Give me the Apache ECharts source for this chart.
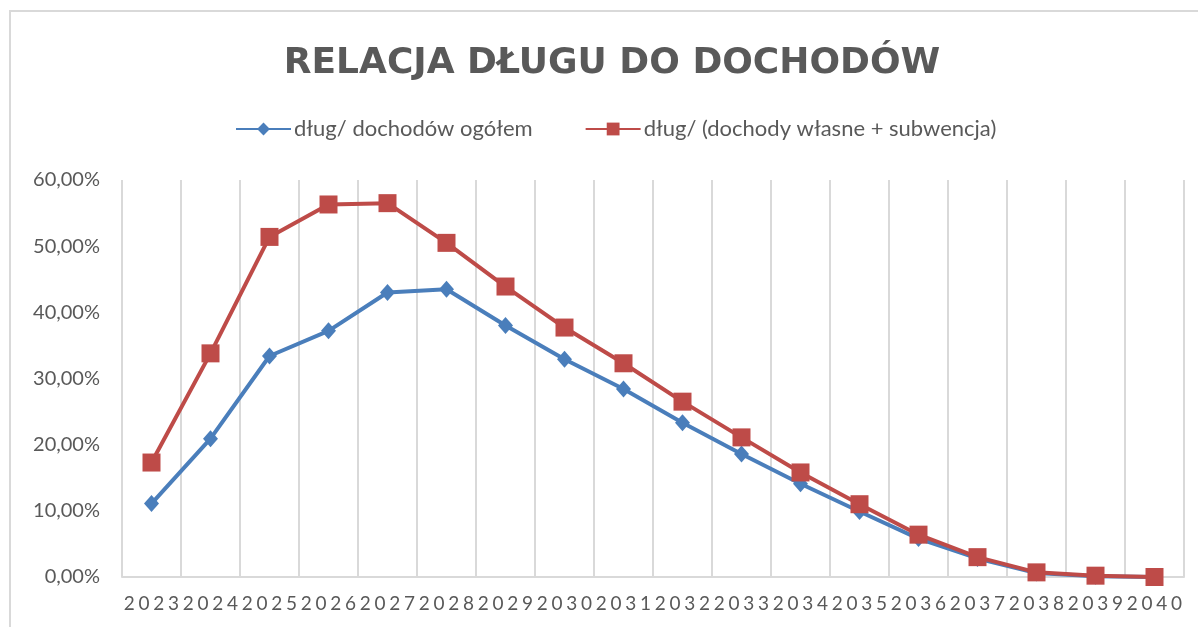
<!DOCTYPE html>
<html>
<head>
<meta charset="utf-8">
<script src="https://cdn.jsdelivr.net/npm/echarts@6/dist/echarts.min.js"></script>
<style>
  html, body { margin: 0; padding: 0; background: #fff; }
  #wykres { width: 1198px; height: 627px; }
</style>
</head>
<body>
<div id="wykres"></div>
<script>
var lata = ['2023', '2024', '2025', '2026', '2027', '2028', '2029', '2030', '2031',
            '2032', '2033', '2034', '2035', '2036', '2037', '2038', '2039', '2040'];
// wartosci w procentach
var dlugOgolem = [11.1, 20.9, 33.4, 37.2, 43.0, 43.5, 38.0, 32.9, 28.4,
                  23.3, 18.6, 14.1, 9.9, 5.8, 2.8, 0.6, 0.1, 0.0];
var dlugWlasne = [17.3, 33.8, 51.4, 56.3, 56.5, 50.5, 43.9, 37.7, 32.3,
                  26.5, 21.1, 15.8, 11.0, 6.4, 3.0, 0.7, 0.2, 0.0];
var nazwy = ['dług/ dochodów ogółem', 'dług/ (dochody własne + subwencja)'];

var myChart = echarts.init(document.getElementById('wykres'));

var szary = '#595959';
var option = {
  animation: false,
  backgroundColor: '#fff',
  graphic: [{
    type: 'rect',
    shape: { x: 10, y: 11, width: 1400, height: 800 },
    style: { fill: 'none', stroke: '#d9d9d9', lineWidth: 2 },
    silent: true
  }],
  title: {
    text: 'RELACJA DŁUGU DO DOCHODÓW',
    left: 607,
    textAlign: 'center',
    top: 41,
    textStyle: {
      fontFamily: 'DejaVu Sans',
      fontWeight: 'bold',
      fontSize: 36,
      color: szary
    }
  },
  legend: {
    left: 230,
    top: 113,
    itemWidth: 55,
    itemHeight: 16,
    itemGap: 52,
    textStyle: { fontFamily: 'Lato', fontSize: 22, color: szary, padding: [0, 0, 0, -2] },
    data: nazwy
  },
  grid: { left: 122, right: 14, top: 180, bottom: 50 },
  xAxis: {
    type: 'category',
    data: lata,
    boundaryGap: true,
    axisLine: { lineStyle: { color: '#d9d9d9', width: 2 } },
    axisTick: { show: false },
    splitLine: { show: true, lineStyle: { color: '#d9d9d9', width: 2 } },
    axisLabel: {
      interval: 0,
      margin: 17,
      fontFamily: 'Lato',
      fontSize: 19,
      color: szary,
      // cyfry rozstawione jak w Excelu
      formatter: function (v) {
        return v.split('').map(function (c) { return '{d|' + c + '}'; }).join('');
      },
      rich: {
        d: { width: 14.75, align: 'center', fontFamily: 'Lato', fontSize: 19, color: szary }
      }
    }
  },
  yAxis: {
    type: 'value',
    min: 0,
    max: 60,
    interval: 10,
    axisLine: { show: false },
    axisTick: { show: false },
    splitLine: { show: false },
    axisLabel: {
      margin: 22,
      fontFamily: 'Lato',
      fontSize: 20,
      color: szary,
      formatter: function (v) { return v.toFixed(2).replace('.', ',') + '%'; }
    }
  },
  series: [{
    name: nazwy[0],
    type: 'line',
    data: dlugOgolem,
    symbol: 'diamond',
    symbolSize: [15, 17],
    color: '#4a7ebb',
    lineStyle: { width: 4, color: '#4a7ebb' },
    itemStyle: { color: '#4a7ebb' }
  }, {
    name: nazwy[1],
    type: 'line',
    data: dlugWlasne,
    symbol: 'rect',
    symbolSize: 18,
    color: '#be4b48',
    lineStyle: { width: 4, color: '#be4b48' },
    itemStyle: { color: '#be4b48' }
  }]
};
myChart.setOption(option);
</script>
</body>
</html>
